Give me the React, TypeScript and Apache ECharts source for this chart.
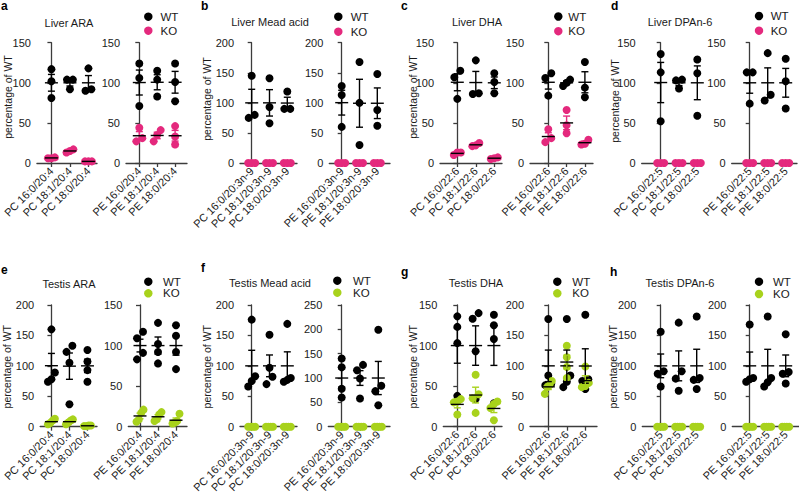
import React, { useEffect, useRef } from "react";
import * as echarts from "echarts";

// ---------- categories ----------
const pcARA = ["PC 16:0/20:4", "PC 18:1/20:4", "PC 18:0/20:4"];
const peARA = ["PE 16:0/20:4", "PE 18:1/20:4", "PE 18:0/20:4"];
const pcMead = ["PC 16:0/20:3n-9", "PC 18:1/20:3n-9", "PC 18:0/20:3n-9"];
const peMead = ["PE 16:0/20:3n-9", "PE 18:1/20:3n-9", "PE 18:0/20:3n-9"];
const pcDHA = ["PC 16:0/22:6", "PC 18:1/22:6", "PC 18:0/22:6"];
const peDHA = ["PE 16:0/22:6", "PE 18:1/22:6", "PE 18:0/22:6"];
const pcDPA = ["PC 16:0/22:5", "PC 18:1/22:5", "PC 18:0/22:5"];
const peDPA = ["PE 16:0/22:5", "PE 18:1/22:5", "PE 18:0/22:5"];

// ---------- values (percentage of WT) ----------
const zeros3 = [[0, 0, 0], [0, 0, 0], [0, 0, 0]];
const zeros4 = [[0, 0, 0, 0], [0, 0, 0, 0], [0, 0, 0, 0]];

const liverAraPcWT = [[117, 102, 81], [104, 104, 92], [118, 92, 90]];
const liverAraPcKO = [[6, 6, 7], [13, 15, 17], [2, 2, 2]];
const liverAraPeWT = [[124, 106, 71], [115, 104, 83], [124, 101, 77]];
const liverAraPeKO = [[44, 31, 27], [41, 35, 27], [46, 33, 23]];

const liverMeadPcWT = [[145, 80, 75], [141, 93, 66], [119, 90, 90]];
const liverMeadPcKO = zeros3;
const liverMeadPeWT = [[128, 113, 60], [168, 100, 30], [148, 88, 62]];
const liverMeadPeKO = zeros3;

const liverDhaPcWT = [[115, 107, 80], [128, 87, 86], [112, 101, 87]];
const liverDhaPcKO = [[10, 13, 13], [21, 25, 22], [5, 7, 6]];
const liverDhaPeWT = [[106, 112, 84], [100, 104, 96], [126, 94, 82]];
const liverDhaPeKO = [[42, 31, 26], [66, 47, 37], [29, 23, 24]];

const liverDpaPcWT = [[136, 113, 52], [103, 104, 93], [129, 112, 59]];
const liverDpaPcKO = zeros3;
const liverDpaPeWT = [[113, 113, 74], [137, 85, 78], [130, 102, 68]];
const liverDpaPeKO = zeros3;

const testisAraPcWT = [[160, 89, 78, 74], [133, 123, 105, 37], [126, 107, 93, 74]];
const testisAraPcKO = [[13, 10, 6, 4], [12, 10, 7, 4], [2, 1, 1, 2]];
const testisAraPeWT = [[117, 109, 91, 83], [128, 102, 92, 78], [125, 112, 92, 71]];
const testisAraPeKO = [[21, 17, 9, 6], [18, 15, 9, 7], [16, 7, 5, 4]];

const testisMeadPcWT = [[176, 83, 75, 66], [151, 97, 82, 70], [169, 80, 77, 74]];
const testisMeadPcKO = zeros4;
const testisMeadPeWT = [[140, 122, 78, 60], [127, 116, 99, 58], [199, 84, 73, 44]];
const testisMeadPeKO = zeros4;

const testisDhaPcWT = [[136, 123, 103, 38], [140, 133, 93, 34], [138, 125, 108, 29]];
const testisDhaPcKO = [[34, 31, 30, 15], [64, 40, 35, 17], [31, 28, 23, 8]];
const testisDhaPeWT = [[177, 84, 71, 68], [177, 84, 74, 65], [184, 78, 75, 62]];
const testisDhaPeKO = [[75, 68, 65, 54], [133, 114, 98, 80], [99, 72, 67, 65]];

const testisDpaPcWT = [[156, 91, 87, 66], [171, 91, 79, 59], [181, 80, 77, 62]];
const testisDpaPcKO = zeros4;
const testisDpaPeWT = [[168, 80, 78, 74], [181, 80, 73, 66], [152, 90, 87, 71]];
const testisDpaPeKO = zeros4;

// ---------- y-axis maxima ----------
const yMaxPC = [150, 200, 150, 150, 200, 200, 150, 200];
const yMaxPE = [150, 200, 150, 150, 150, 250, 200, 200];

const panelLetters = ["a", "b", "c", "d", "e", "f", "g", "h"];
const panelTitles = [
  "Liver ARA", "Liver Mead acid", "Liver DHA", "Liver DPAn-6",
  "Testis ARA", "Testis Mead acid", "Testis DHA", "Testis DPAn-6",
];
const legendLabels = ["WT", "KO"];
const yName = "percentage of WT";

// ---------- styling ----------
const BLACK = "#000000";
const PINK = "#E4297D";
const LIME = "#A8D21C";
const AXIS = "#3c3c3c";
const TEXT = "#1a1a1a";
const FONT = "'Liberation Sans', Arial, Helvetica, sans-serif";

// layout per sub chart: [left, right, firstCatX, catSpacing]
const subLayout: number[][] = [
  [36, 97, 50.7, 18.8], [126, 187, 139.3, 17.9],
  [240, 297, 251.7, 17.8], [329.3, 390, 341.7, 17.8],
  [440, 502, 457.3, 18.5], [530, 593, 548.3, 18.3],
  [641.7, 703, 660.7, 18.3], [731.7, 797, 749.7, 18],
  [39.3, 97, 50.7, 18.3], [128.3, 187, 140, 18],
  [240, 297, 251.7, 17.8], [328.3, 390, 341.7, 18.3],
  [443.3, 502, 457.3, 18.3], [530, 597, 548.3, 18.5],
  [642.3, 703, 660.7, 18], [732.3, 799, 749.7, 18],
];
const rowTop = [42.7, 305];
const rowHeight = [120.3, 121.7];
// [dotX, textX, wtY, koY]
const legendPos = [
  [148.3, 160.5, 16.7, 30.7], [338.3, 350.7, 16.7, 31.7],
  [558.3, 568.3, 16.5, 31.2], [759, 770.7, 16, 30.7],
  [148.3, 163, 281.7, 293.3], [337.3, 353, 280.7, 292.7],
  [557.3, 572.3, 281.7, 293.3], [759, 773, 281.7, 294],
];
const titlePos = [
  [69, 23], [270, 22], [477, 22], [680, 22],
  [69, 284], [270, 283], [476, 283], [680, 283],
];
const letterPos = [
  [1, 6], [201, 6], [401, 6], [611, 6],
  [1, 270], [201, 268], [401, 272], [610, 272],
];
const yNamePos = [
  [7.5, 97], [207.3, 99], [413, 97], [615, 101],
  [7, 366.7], [207, 366.7], [413, 366.7], [613, 366.7],
];

const mean = (a: number[]) => a.reduce((s, v) => s + v, 0) / a.length;
const sem = (a: number[]) => {
  const m = mean(a);
  const v = a.reduce((s, x) => s + (x - m) * (x - m), 0) / (a.length - 1);
  return Math.sqrt(v) / Math.sqrt(a.length);
};

// simple beeswarm: offsets (in category units) for overlapping dots
function swarm(vals: number[], pxPerUnitY: number, spPx: number): number[] {
  const idx = vals.map((_, i) => i).sort((a, b) => vals[a] - vals[b]);
  const out = new Array(vals.length).fill(0);
  const clusters: number[][] = [];
  let cur: number[] = [];
  idx.forEach((i, k) => {
    if (k > 0 && (vals[i] - vals[idx[k - 1]]) * pxPerUnitY < 7.5) cur.push(i);
    else {
      if (cur.length) clusters.push(cur);
      cur = [i];
    }
  });
  if (cur.length) clusters.push(cur);
  clusters.forEach((c) => {
    const step = c.length > 1 ? Math.min(6, 7 / (c.length - 1)) : 0;
    c.forEach((i, k) => {
      out[i] = ((k - (c.length - 1) / 2) * step) / spPx;
    });
  });
  return out;
}

const panels = [
  { pc: [pcARA, liverAraPcWT, liverAraPcKO], pe: [peARA, liverAraPeWT, liverAraPeKO], ko: PINK },
  { pc: [pcMead, liverMeadPcWT, liverMeadPcKO], pe: [peMead, liverMeadPeWT, liverMeadPeKO], ko: PINK },
  { pc: [pcDHA, liverDhaPcWT, liverDhaPcKO], pe: [peDHA, liverDhaPeWT, liverDhaPeKO], ko: PINK },
  { pc: [pcDPA, liverDpaPcWT, liverDpaPcKO], pe: [peDPA, liverDpaPeWT, liverDpaPeKO], ko: PINK },
  { pc: [pcARA, testisAraPcWT, testisAraPcKO], pe: [peARA, testisAraPeWT, testisAraPeKO], ko: LIME },
  { pc: [pcMead, testisMeadPcWT, testisMeadPcKO], pe: [peMead, testisMeadPeWT, testisMeadPeKO], ko: LIME },
  { pc: [pcDHA, testisDhaPcWT, testisDhaPcKO], pe: [peDHA, testisDhaPeWT, testisDhaPeKO], ko: LIME },
  { pc: [pcDPA, testisDpaPcWT, testisDpaPcKO], pe: [peDPA, testisDpaPeWT, testisDpaPeKO], ko: LIME },
];

function buildOption() {
  const grid: any[] = [];
  const xAxis: any[] = [];
  const yAxis: any[] = [];
  const series: any[] = [];
  const graphic: any[] = [];
  const axisLineStyle = { color: AXIS, width: 1.3 };

  panels.forEach((p, pi) => {
    const row = pi < 4 ? 0 : 1;
    const subs = [
      { def: p.pc, ymax: yMaxPC[pi] },
      { def: p.pe, ymax: yMaxPE[pi] },
    ];
    subs.forEach((s, si) => {
      const gi = pi * 2 + si;
      const [left, right, c0, sp] = subLayout[gi];
      const top = rowTop[row];
      const height = rowHeight[row];
      const cats = s.def[0] as string[];
      const wt = s.def[1] as number[][];
      const ko = s.def[2] as number[][];
      grid.push({ left, top, width: right - left, height, containLabel: false });
      xAxis.push({
        type: "value",
        gridIndex: gi,
        min: -(c0 - left) / sp,
        max: (right - c0) / sp,
        splitLine: { show: false },
        axisLine: { show: true, onZero: false, lineStyle: axisLineStyle },
        axisTick: { show: true, customValues: [0, 1, 2], length: 4, lineStyle: axisLineStyle },
        axisLabel: {
          show: true,
          customValues: [0, 1, 2],
          rotate: 45,
          margin: 6,
          fontSize: 11,
          color: TEXT,
          fontFamily: FONT,
          formatter: (v: number) => cats[Math.round(v)] ?? "",
        },
      });
      yAxis.push({
        type: "value",
        gridIndex: gi,
        min: 0,
        max: s.ymax,
        interval: 50,
        splitLine: { show: false },
        axisLine: { show: true, lineStyle: axisLineStyle },
        axisTick: { show: true, length: 4, lineStyle: axisLineStyle },
        axisLabel: { fontSize: 11, color: TEXT, fontFamily: FONT, margin: 6 },
      });
      const pxPerUnitY = height / s.ymax;
      const groups = [
        { vals: wt, color: BLACK, kind: 0 },
        { vals: ko, color: p.ko, kind: 1 },
      ];
      const bars: number[][] = [];
      groups.forEach((g) => {
        const data: number[][] = [];
        g.vals.forEach((arr, j) => {
          const offs = swarm(arr, pxPerUnitY, sp);
          arr.forEach((v, k) => data.push([j + offs[k], v]));
          bars.push([j, mean(arr), sem(arr), g.kind]);
        });
        series.push({
          type: "scatter",
          xAxisIndex: gi,
          yAxisIndex: gi,
          symbol: "circle",
          symbolSize: 8,
          clip: false,
          silent: true,
          itemStyle: { color: g.color, opacity: 1 },
          data,
          z: 2 + g.kind,
        });
      });
      const koColor = p.ko;
      series.push({
        type: "custom",
        xAxisIndex: gi,
        yAxisIndex: gi,
        silent: true,
        z: 5,
        encode: { x: 0, y: 1 },
        data: bars,
        renderItem: (params: any, api: any) => {
          const x = api.value(0);
          const m = api.value(1);
          const e = api.value(2);
          const kind = api.value(3);
          if (m === 0 && e === 0) return { type: "group", children: [] };
          const c = api.coord([x, m]);
          const t = api.coord([x, m + e]);
          const b = api.coord([x, Math.max(0, m - e)]);
          const ec = kind === 0 ? BLACK : koColor;
          const lw = 1.4;
          return {
            type: "group",
            children: [
              { type: "line", shape: { x1: c[0], y1: t[1], x2: c[0], y2: b[1] }, style: { stroke: ec, lineWidth: lw } },
              { type: "line", shape: { x1: c[0] - 3.5, y1: t[1], x2: c[0] + 3.5, y2: t[1] }, style: { stroke: ec, lineWidth: lw } },
              { type: "line", shape: { x1: c[0] - 3.5, y1: b[1], x2: c[0] + 3.5, y2: b[1] }, style: { stroke: ec, lineWidth: lw } },
              { type: "line", shape: { x1: c[0] - 6.5, y1: c[1], x2: c[0] + 6.5, y2: c[1] }, style: { stroke: BLACK, lineWidth: lw } },
            ],
          };
        },
      });
    });

    // texts
    graphic.push({
      type: "text",
      x: letterPos[pi][0],
      y: letterPos[pi][1],
      style: { text: panelLetters[pi], font: `bold 12px ${FONT}`, fill: "#000", textAlign: "left", textVerticalAlign: "middle" },
    });
    graphic.push({
      type: "text",
      x: titlePos[pi][0],
      y: titlePos[pi][1],
      style: { text: panelTitles[pi], font: `11px ${FONT}`, fill: TEXT, textAlign: "center", textVerticalAlign: "middle" },
    });
    graphic.push({
      type: "text",
      x: yNamePos[pi][0],
      y: yNamePos[pi][1],
      rotation: Math.PI / 2,
      style: { text: yName, font: `10.5px ${FONT}`, fill: TEXT, textAlign: "center", textVerticalAlign: "middle" },
    });
    const [dx, tx, wy, ky] = legendPos[pi];
    [wy, ky].forEach((yy, li) => {
      graphic.push({ type: "circle", shape: { cx: dx, cy: yy, r: 4.2 }, style: { fill: li === 0 ? BLACK : p.ko } });
      graphic.push({
        type: "text",
        x: tx,
        y: yy,
        style: { text: legendLabels[li], font: `11.5px ${FONT}`, fill: TEXT, textAlign: "left", textVerticalAlign: "middle" },
      });
    });
  });

  return { animation: false, backgroundColor: "#ffffff", grid, xAxis, yAxis, series, graphic };
}

export default function App() {
  const ref = useRef<HTMLDivElement>(null);
  useEffect(() => {
    if (!ref.current) return;
    const chart = echarts.init(ref.current, undefined, { renderer: "svg" });
    chart.setOption(buildOption() as any);
    return () => chart.dispose();
  }, []);
  return (
    <div
      ref={ref}
      style={{ position: "fixed", left: 0, top: 0, width: 799, height: 497, background: "#fff" }}
    />
  );
}
